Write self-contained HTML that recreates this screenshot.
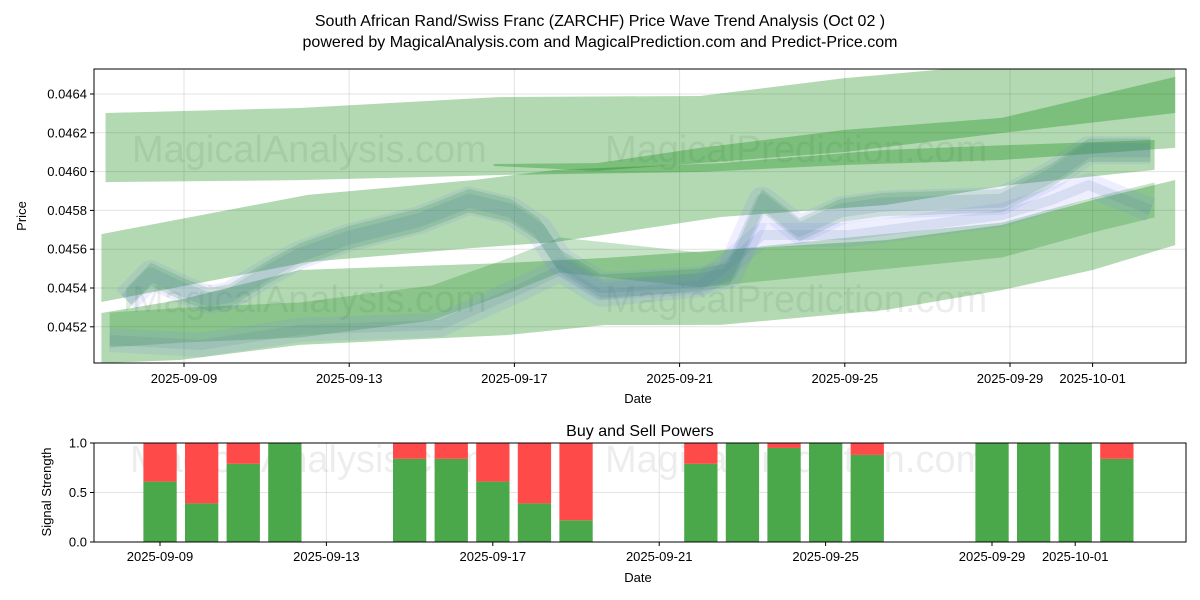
<!DOCTYPE html>
<html><head><meta charset="utf-8"><style>
body{margin:0;background:#fff;}
svg{display:block;font-family:"Liberation Sans","DejaVu Sans",sans-serif;}
</style></head><body>
<svg id="chart" width="1200" height="600" xmlns="http://www.w3.org/2000/svg">
<defs><clipPath id="clipTop"><rect x="94" y="69" width="1092" height="294"/></clipPath>
<clipPath id="clipBot"><rect x="94" y="443" width="1092" height="99"/></clipPath></defs>
<text x="600" y="26" text-anchor="middle" font-size="16">South African Rand/Swiss Franc (ZARCHF) Price Wave Trend Analysis (Oct 02 )</text>
<text x="600" y="47" text-anchor="middle" font-size="16">powered by MagicalAnalysis.com and MagicalPrediction.com and Predict-Price.com</text>
<g id="topPanel"></g>
<g id="botPanel"></g>
</svg>
<script>
const NS="http://www.w3.org/2000/svg";
// ---- top chart data (day offsets from 2025-09-09) ----
const yTicks=[0.0452,0.0454,0.0456,0.0458,0.0460,0.0462,0.0464];
const xTickDays=[0,4,8,12,16,20,22];
const xTickLabels=["2025-09-09","2025-09-13","2025-09-17","2025-09-21","2025-09-25","2025-09-29","2025-10-01"];
const bandADays=[-1.9,2.8,7.6,12.5,16,19.8,24];
const bandACenter=[0.046124,0.046142,0.046183,0.046194,0.046258,0.046307,0.046369];
const bandAHalf=[0.000178,0.000186,0.000201,0.000196,0.000224,0.000247,0.000247];
const bandBDays=[7.5,10,12.5,16,19.8,24];
const bandBCenter=[0.046034,0.046024,0.046083,0.046158,0.046238,0.046395];
const bandBHalf=[0.000005,0.00002,0.000039,0.000057,0.000039,0.000093];
const bandCDays=[-2,3,7,9,13,17,20,23.5];
const bandCCenter=[0.045503,0.045707,0.045781,0.045823,0.045905,0.045970,0.046034,0.046086];
const bandCHalf=[0.000175,0.000173,0.000175,0.000186,0.000139,0.000142,0.000103,0.000077];
const bandDDays=[-2,-0.1,2.8,7.8,10.2,13,17,19.8,22,24];
const bandDCenter=[0.045142,0.045184,0.045300,0.045343,0.045382,0.045403,0.045467,0.045557,0.045673,0.045789];
const bandDHalf=[0.000129,0.000155,0.000193,0.000186,0.000173,0.000193,0.00018,0.000168,0.00018,0.000168];
const bandEDays=[-1.8,0,2.8,6,7.9,9.1,12.5,16.1,19.8,22,23.5];
const bandECenter=[0.045184,0.045209,0.045235,0.045323,0.045467,0.045570,0.045493,0.045570,0.045647,0.045776,0.045854];
const waveDays=[-1.4,-0.8,0,0.6,1.1,2.1,2.8,4,5.7,6.9,7.9,8.6,9.1,10.1,11,12.5,13.2,14,14.9,15.9,16.9,19.8,21,21.9,23.4];
const wavePrices=[0.04534,0.04547,0.04539,0.04534,0.04536,0.04549,0.04557,0.04566,0.04575,0.04585,0.04580,0.04570,0.04554,0.04541,0.04542,0.04544,0.04547,0.04585,0.04570,0.04580,0.04583,0.04585,0.04598,0.04611,0.04611];
const lowDays=[-1.8,0.4,2.8,6.2,8.1,9.1,10.1,12.5,13,14,16.1,19.8,21,21.9,23.4];
const lowPrices=[0.045132,0.045106,0.045184,0.045209,0.045390,0.045493,0.045364,0.045415,0.045493,0.045673,0.045673,0.045776,0.045854,0.045931,0.045802];
// ---- bottom chart data ----
const barDays=[0,1,2,3,6,7,8,9,10,13,14,15,16,17,20,21,22,23];
const buyValues=[0.61,0.39,0.79,1.0,0.84,0.84,0.61,0.39,0.22,0.79,1.0,0.95,1.0,0.88,1.0,1.0,1.0,0.84];
const sigTicks=[0,0.5,1.0];
const botTickDays=[0,4,8,12,16,20,22];

const xT=d=>184+d*41.3, yT=p=>94+(0.0464-p)*194000;
const xB=d=>160+d*41.6, yB=v=>542-v*99;
function mk(tag,attrs,parent,txt){const e=document.createElementNS(NS,tag);for(const k in attrs)e.setAttribute(k,attrs[k]);if(txt!==undefined)e.textContent=txt;parent.appendChild(e);return e;}
const topG=document.getElementById('topPanel'), botG=document.getElementById('botPanel');

yTicks.forEach(v=>{const g=mk('line',{x1:94,x2:1186,y1:yT(v),y2:yT(v),stroke:'#b0b0b0','stroke-opacity':0.35},topG);

});
xTickDays.forEach(d=>{const g=mk('line',{x1:xT(d),x2:xT(d),y1:69,y2:363,stroke:'#b0b0b0','stroke-opacity':0.35},topG);

});
[[132,148,"MagicalAnalysis.com"],[605,148,"MagicalPrediction.com"],[132,298,"MagicalAnalysis.com"],[605,298,"MagicalPrediction.com"],[130,458,"MagicalAnalysis.com"],[605,458,"MagicalPrediction.com"]].forEach(w=>{
const tx=mk('text',{x:w[0],y:w[1]+14,'font-size':38,fill:'#000','fill-opacity':0.07},topG,w[2]);

});

const plot=mk('g',{'clip-path':'url(#clipTop)'},topG);


function band(days,cen,half,color,op,name){
  const upper=days.map((d,i)=>xT(d)+','+yT(cen[i]+(Array.isArray(half)?half[i]:half)));
  const lower=days.map((d,i)=>xT(d)+','+yT(cen[i]-(Array.isArray(half)?half[i]:half))).reverse();
  const p=mk('polygon',{points:upper.concat(lower).join(' '),fill:color,'fill-opacity':op},plot);
  
  
}
band(bandADays,bandACenter,bandAHalf,'green',0.3,'trend-band-upper');
band(bandBDays,bandBCenter,bandBHalf,'green',0.3,'trend-band-upper-core');
band(bandCDays,bandCCenter,bandCHalf,'green',0.3,'trend-band-middle');
band(bandDDays,bandDCenter,bandDHalf,'green',0.3,'trend-band-lower');
band(bandEDays,bandECenter,0.00009,'green',0.22,'trend-band-lower-core');
band(waveDays,wavePrices,0.00006,'green',0.15,'wave-band-main');
function wave(days,prices,color,w,op,name){
  const d=days.map((x,i)=>(i?'L':'M')+xT(x)+','+yT(prices[i])).join(' ');
  const p=mk('path',{d:d,fill:'none',stroke:color,'stroke-width':w,'stroke-opacity':op,'stroke-linejoin':'round'},plot);
  
  
}
wave(lowDays,lowPrices,'#7070ff',24,0.12,'price-wave-lower');
wave(lowDays,lowPrices,'#4f7f9f',10,0.14,'price-wave-lower-core');
wave(waveDays,wavePrices,'#7070ff',28,0.12,'price-wave-main');
wave(waveDays,wavePrices,'#4f7f9f',14,0.18,'price-wave-main-core');

const fr=mk('rect',{x:94,y:69,width:1092,height:294,fill:'none',stroke:'#000','stroke-width':1},topG);


yTicks.forEach(v=>{mk('line',{x1:90,x2:94,y1:yT(v),y2:yT(v),stroke:'#000'},topG);
const l=mk('text',{x:87,y:yT(v)+4.5,'text-anchor':'end','font-size':13},topG,v.toFixed(4));

});
xTickDays.forEach((d,i)=>{mk('line',{x1:xT(d),x2:xT(d),y1:363,y2:367,stroke:'#000'},topG);
const l=mk('text',{x:xT(d),y:383,'text-anchor':'middle','font-size':13},topG,xTickLabels[i]);

});
let lbl=mk('text',{x:638,y:403,'text-anchor':'middle','font-size':13},topG,'Date');


lbl=mk('text',{x:26,y:216,'text-anchor':'middle','font-size':13,transform:'rotate(-90 26 216)'},topG,'Price');



sigTicks.forEach(v=>{const g=mk('line',{x1:94,x2:1186,y1:yB(v),y2:yB(v),stroke:'#b0b0b0','stroke-opacity':0.35},botG);

});
botTickDays.forEach(d=>{const g=mk('line',{x1:xB(d),x2:xB(d),y1:443,y2:542,stroke:'#b0b0b0','stroke-opacity':0.35},botG);

});
const bg=mk('g',{'clip-path':'url(#clipBot)'},botG);


barDays.forEach((d,i)=>{
  const x=xB(d)-16.6,w=33.3,b=buyValues[i];
  const g=mk('rect',{x:x,y:yB(b),width:w,height:yB(0)-yB(b),fill:'#4aa84a'},bg);
  
  
  const r=mk('rect',{x:x,y:yB(1),width:w,height:yB(b)-yB(1),fill:'#ff4a4a'},bg);
  
  
});
const fr2=mk('rect',{x:94,y:443,width:1092,height:99,fill:'none',stroke:'#000'},botG);


sigTicks.forEach(v=>{mk('line',{x1:90,x2:94,y1:yB(v),y2:yB(v),stroke:'#000'},botG);
const l=mk('text',{x:87,y:yB(v)+4.5,'text-anchor':'end','font-size':13},botG,v.toFixed(1));

});
botTickDays.forEach((d,i)=>{mk('line',{x1:xB(d),x2:xB(d),y1:542,y2:546,stroke:'#000'},botG);
const l=mk('text',{x:xB(d),y:561,'text-anchor':'middle','font-size':13},botG,xTickLabels[i]);

});
lbl=mk('text',{x:640,y:436,'text-anchor':'middle','font-size':16},botG,'Buy and Sell Powers');


lbl=mk('text',{x:638,y:582,'text-anchor':'middle','font-size':13},botG,'Date');


lbl=mk('text',{x:51,y:492,'text-anchor':'middle','font-size':13,transform:'rotate(-90 51 492)'},botG,'Signal Strength');


</script>
</body></html>
